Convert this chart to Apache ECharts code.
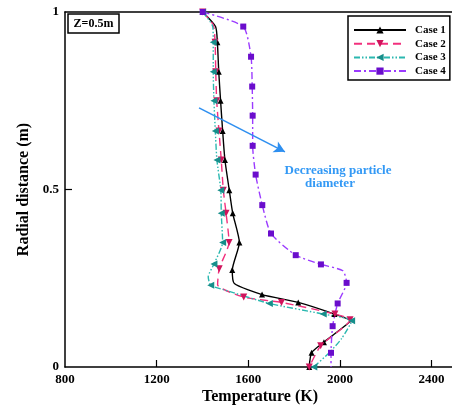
<!DOCTYPE html>
<html><head><meta charset="utf-8">
<script src="https://cdn.jsdelivr.net/npm/echarts@6/dist/echarts.min.js"></script>
<style>html,body{margin:0;padding:0;background:#fff}#c{width:452px;height:407px}</style>
</head><body><div id="c"></div><script>
// ---- data ----
const seriesNames = ['Case 1', 'Case 2', 'Case 3', 'Case 4'];
const xTicks = [800, 1200, 1600, 2000, 2400];
const yTicks = [0, 0.5, 1];

const case1T = [1401, 1457, 1465, 1471, 1479, 1488, 1498, 1517, 1532, 1561, 1530, 1539, 1660, 1818, 1976, 2045, 1990, 1930, 1876, 1866];
const case1R = [1.0, 0.959, 0.915, 0.832, 0.750, 0.665, 0.583, 0.498, 0.433, 0.351, 0.273, 0.235, 0.204, 0.182, 0.149, 0.130, 0.100, 0.070, 0.040, 0.0];
const case1NoMark = [1, 11, 15, 16];

const case2T = [1401, 1447, 1455, 1458, 1462, 1472, 1482, 1491, 1503, 1516, 1473, 1466, 1580, 1745, 1978, 2044, 1916, 1866];
const case2R = [1.0, 0.964, 0.915, 0.832, 0.750, 0.665, 0.583, 0.498, 0.433, 0.351, 0.277, 0.232, 0.197, 0.182, 0.149, 0.133, 0.060, 0.0];
const case2NoMark = [1, 11];

const case3T = [1401, 1445, 1447, 1447, 1450, 1456, 1463, 1480, 1482, 1488, 1450, 1425, 1436, 1491, 1692, 1927, 2051, 2007, 1956, 1886];
const case3R = [1.0, 0.959, 0.915, 0.832, 0.750, 0.665, 0.583, 0.498, 0.433, 0.351, 0.290, 0.254, 0.230, 0.218, 0.179, 0.149, 0.130, 0.080, 0.042, 0.0];
const case3NoMark = [1, 11, 13, 17, 18];

const case4T = [1401, 1578, 1612, 1617, 1619, 1619, 1632, 1661, 1699, 1807, 1917, 2013, 2029, 1990, 1968, 1961, 1961];
const case4R = [1.0, 0.959, 0.874, 0.790, 0.708, 0.623, 0.542, 0.456, 0.376, 0.315, 0.289, 0.271, 0.237, 0.179, 0.115, 0.040, 0.0];
const case4NoMark = [11, 16];

// annotation arrow (data coordinates)
const arrowFrom = [1385, 0.730];
const arrowTo = [1760, 0.606];

// ---- build ----
const FONT = "'Liberation Serif', 'Times New Roman', serif";
function pts(T, R, noMark) {
  return T.map((t, i) => noMark.indexOf(i) >= 0 ? { value: [t, R[i]], symbol: 'none' } : [t, R[i]]);
}
const chart = echarts.init(document.getElementById('c'), null, { renderer: 'canvas' });
const lbl = { fontFamily: FONT, fontWeight: 'bold', fontSize: 13, color: '#000' };
const XMIN = 800, XMAX = 2489;

chart.setOption({
  animation: false,
  backgroundColor: '#fff',
  grid: { left: 65, top: 12, bottom: 40, right: 0 },
  xAxis: [{
    type: 'value', min: XMIN, max: XMAX, interval: 400,
    axisLine: { show: true, lineStyle: { color: '#000', width: 1.5 } },
    axisTick: { show: true, inside: true, length: 7, customValues: xTicks.slice(1), lineStyle: { color: '#000', width: 1.2 } },
    splitLine: { show: false },
    axisLabel: Object.assign({ margin: 6, customValues: xTicks, formatter: v => xTicks.indexOf(v) >= 0 ? String(v) : '' }, lbl)
  }, {
    type: 'value', min: XMIN, max: XMAX, position: 'top',
    axisLine: { show: true, lineStyle: { color: '#000', width: 1.5 } },
    axisTick: { show: false }, axisLabel: { show: false }, splitLine: { show: false }
  }],
  yAxis: {
    type: 'value', min: 0, max: 1, interval: 0.5,
    name: 'Radial distance (m)', nameLocation: 'middle', nameGap: 32,
    nameTextStyle: { fontFamily: FONT, fontWeight: 'bold', fontSize: 16, color: '#000' },
    axisLine: { show: true, lineStyle: { color: '#000', width: 1.5 } },
    axisTick: { show: true, inside: true, length: 7, customValues: [0.5], lineStyle: { color: '#000', width: 1.2 } },
    splitLine: { show: false },
    axisLabel: Object.assign({ margin: 6, customValues: yTicks, formatter: v => yTicks.indexOf(v) >= 0 ? String(v) : '' }, lbl)
  },
  legend: {
    orient: 'vertical', left: 348, top: 16,
    padding: [7.5, 4, 2.5, 5], itemGap: 0.7, itemWidth: 52, itemHeight: 9,
    borderColor: '#000', borderWidth: 1.5, backgroundColor: '#fff',
    textStyle: { fontFamily: FONT, fontWeight: 'bold', fontSize: 11, lineHeight: 13, color: '#000', padding: [0, 0, 0, 4] },
    data: seriesNames
  },
  series: [
    { name: 'Case 1', type: 'line', data: pts(case1T, case1R, case1NoMark), smooth: 0.2,
      symbol: 'triangle', symbolSize: 6, lineStyle: { color: '#000', width: 1.4, type: 'solid' },
      itemStyle: { color: '#000' } },
    { name: 'Case 2', type: 'line', data: pts(case2T, case2R, case2NoMark), smooth: 0.2,
      symbol: 'triangle', symbolRotate: 180, symbolSize: 7, lineStyle: { color: '#F2307D', width: 1.4, type: [8, 5] },
      itemStyle: { color: '#D0145C' } },
    { name: 'Case 3', type: 'line', data: pts(case3T, case3R, case3NoMark), smooth: 0.2,
      symbol: 'triangle', symbolRotate: 90, symbolSize: 7, lineStyle: { color: '#2BB8B0', width: 1.4, type: [6, 2, 1.5, 2, 1.5, 2] },
      itemStyle: { color: '#168E8A' } },
    { name: 'Case 4', type: 'line', data: pts(case4T, case4R, case4NoMark), smooth: 0.2,
      symbol: 'rect', symbolSize: 6, lineStyle: { color: '#9B3BFF', width: 1.4, type: [7, 3, 2, 3] },
      itemStyle: { color: '#6A0DCC' },
      markLine: {
        silent: true, symbol: ['none', 'arrow'], symbolSize: [9, 11], label: { show: false },
        lineStyle: { color: '#2E8FF0', width: 1.6, type: 'solid' },
        data: [[{ coord: arrowFrom }, { coord: arrowTo }]]
      } }
  ],
  graphic: [
    { type: 'rect', shape: { x: 68, y: 14, width: 51, height: 19 }, style: { fill: '#fff', stroke: '#000', lineWidth: 1.5 }, z: 100 },
    { type: 'text', x: 93.5, y: 23.5, style: { text: 'Z=0.5m', fontFamily: FONT, fontWeight: 'bold', fontSize: 12, fill: '#000', align: 'center', verticalAlign: 'middle' }, z: 101 },
    { type: 'text', x: 338, y: 170.5, style: { text: 'Decreasing particle', fontFamily: FONT, fontWeight: 'bold', fontSize: 13, fill: '#3399F5', align: 'center', verticalAlign: 'middle' }, z: 101 },
    { type: 'text', x: 330, y: 183.5, style: { text: 'diameter', fontFamily: FONT, fontWeight: 'bold', fontSize: 13, fill: '#3399F5', align: 'center', verticalAlign: 'middle' }, z: 101 },
    { type: 'text', x: 260, y: 397, style: { text: 'Temperature (K)', fontFamily: FONT, fontWeight: 'bold', fontSize: 16, fill: '#000', align: 'center', verticalAlign: 'middle' }, z: 101 }
  ]
});
</script></body></html>
